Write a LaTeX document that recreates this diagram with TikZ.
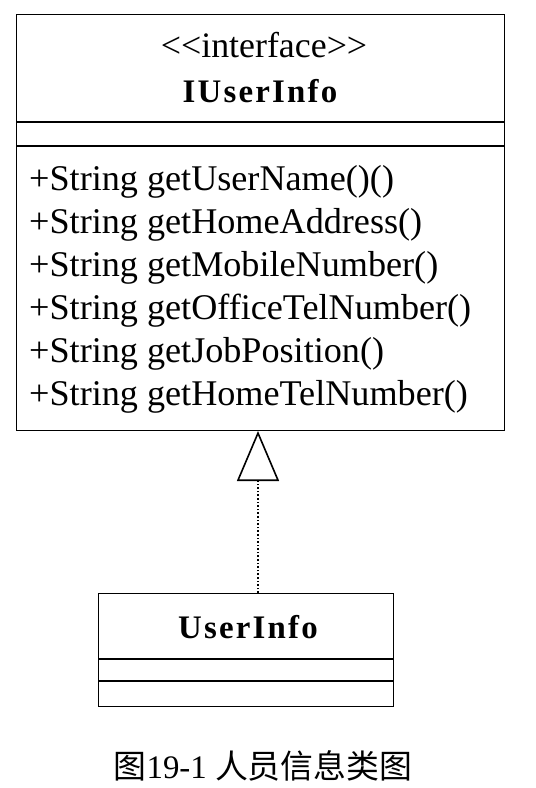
\documentclass[tikz,border=0pt]{standalone}
\usepackage{fontspec}
\setmainfont{Liberation Serif}
\newfontfamily\cjk{Noto Sans CJK SC}
\usetikzlibrary{arrows.meta}
\newcommand{\ls}{\kern2.2bp}
\begin{document}
\begin{tikzpicture}[x=1bp,y=-1bp,
  box/.style={draw,line width=1.4bp,inner sep=0pt,anchor=north west},
  sep/.style={line width=1.4bp},
  member/.style={anchor=base west,inner sep=0pt,font=\fontsize{36.3}{36.3}\selectfont},
  cname/.style={anchor=base,inner sep=0pt,font=\fontsize{33}{33}\selectfont\bfseries,text=black},
  realize/.style={line width=1.6bp,dotted,-{Triangle[open,length=50bp,width=42bp,line width=1.6bp]}}]
\useasboundingbox (0,0) rectangle (536,788);
% interface box
\node[box,minimum width=488bp,minimum height=416bp] (iface) at (16,14) {};
\coordinate (s1) at (16,122);
\coordinate (s2) at (16,146);
\draw[sep] (s1) -- +(488,0);
\draw[sep] (s2) -- +(488,0);
\node[anchor=base,inner sep=0pt,font=\fontsize{36}{36}\selectfont] (stereo) at (264,58) {<\kern0pt<interface>\kern0pt>};
\node[cname] (iname) at (260,102) {I\ls U\ls s\ls e\ls r\ls I\ls n\ls f\ls o};
\node[member] (m1) at (29,190) {+String getUserName()()};
\node[member] (m2) at (29,233) {+String getHomeAddress()};
\node[member] (m3) at (29,276) {+String getMobileNumber()};
\node[member] (m4) at (29,319) {+String getOfficeTelNumber()};
\node[member] (m5) at (29,362) {+String getJobPosition()};
\node[member] (m6) at (29,405) {+String getHomeTelNumber()};
% class box
\node[box,minimum width=295bp,minimum height=113bp] (cls) at (98,593) {};
\coordinate (t1) at (98,659);
\coordinate (t2) at (98,681);
\draw[sep] (t1) -- +(295,0);
\draw[sep] (t2) -- +(295,0);
\node[cname] (cname) at (248,638) {U\ls s\ls e\ls r\ls I\ls n\ls f\ls o};
% realization
\coordinate (ct) at (258,593);
\coordinate (it) at (258,431);
\draw[realize] (ct) -- (it);
% caption
\node[anchor=base,inner sep=0pt] (cap) at (263,778) {\fontsize{33}{33}\selectfont{\cjk 图}19-1 {\cjk 人员信息类图}};
\end{tikzpicture}
\end{document}
